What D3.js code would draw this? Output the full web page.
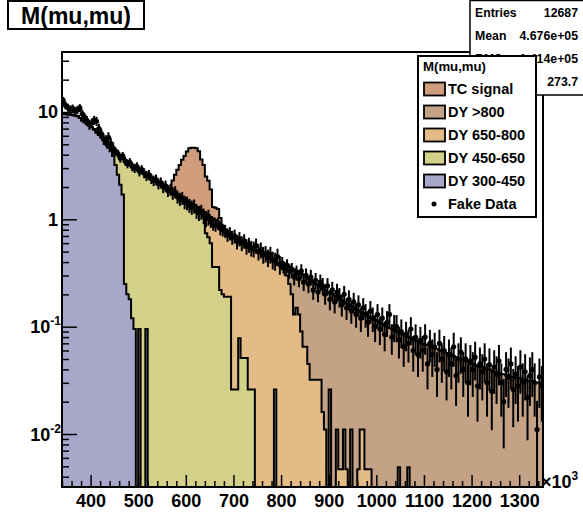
<!DOCTYPE html>
<html><head><meta charset="utf-8">
<script src="https://cdn.jsdelivr.net/npm/d3@7"></script>
<style>
body{margin:0;background:#fff}
text{font-family:"Liberation Sans",Arial,Helvetica,sans-serif;font-weight:bold;fill:#000}
</style></head>
<body><svg id="c" width="583" height="516"></svg>
<script>
// ---- binning (x in units of 10^3) ----
const xMin = 340, xMax = 1350, binWidth = 5, nBins = 202;

// ---- MC components (per-bin values, each starting at given low edge) ----
const dy300_450Start = 340;
const dy300_450 = [9.6,9.5,9.4,9.4,9.3,9.2,9.1,8.8,8.3,8.0,7.7,7.5,7.15,6.84,6.42,6.1,5.78,5.45,5.0,4.65,4.3,3.9,3.2,2.6,2.1,1.7,0.25,0.2,0.18,0.12,0.095,0,0.095,0,0,0.095];

const dy450_650Start = 400;
const dy450_650 = [0.05,0.06,0.08,0.1,0.12,0.15,0.2,0.25,0.3,0.4,
0.9,1.35,1.7,1.95,3.25,3.2,3.12,3.03,2.955,2.95,
2.755,2.76,2.68,2.505,2.5,2.42,2.35,2.28,2.2,2.13,
2.06,2.0,1.93,1.87,1.81,1.75,1.7,1.64,1.59,1.54,
1.49,1.44,1.39,1.35,1.3,1.26,1.18,1.07,0.74,0.68,
0.6,0.36,0.36,0.36,0.22,0.2,0.19,0.19,0.19,0.026,
0.026,0.026,0.078,0.051,0.051,0.051,0.026,0.026,0.026,0,
0,0,0,0,0,0,0,0.026];

const dy650_800Start = 630;
const dy650_800 = [0.03,0.1,0.39,0.41,0.45,0.66,0.62,0.59,0.63,0.62,
0.60,0.58,0.55,0.68,0.65,0.63,0.57,0.575,0.56,0.54,
0.54,0.53,0.51,0.51,0.5,0.49,0.47,0.46,0.44,0.43,
0.41,0.38,0.38,0.37,0.35,0.32,0.3,0.25,0.2,0.13,
0.15,0.13,0.09,0.065,0.065,0.045,0.032,0.032,0.032,0.032,
0.032,0.016,0.011,0,0.026,0,0,0.011,0.0047,0.0047,
0.011,0.0047,0,0.011,0,0,0.0047,0.011,0.011,0.0047,
0.0047,0.0047,0,0,0,0,0,0,0,0,0,0,0,0.0049,0,0,0,0.0049];

const dy800Start = 790;
const dy800 = [0.005,0.01,0.02,0.03,0.08,0.11,0.15,0.21,0.18,0.19,
0.22,0.235,0.225,0.235,0.238,0.228,0.218,0.213,0.203,0.209,
0.209,0.21,0.179,0.2,0.192,0.175,0.175,0.17,0.159,0.16,
0.16,0.144,0.15,0.145,0.136,0.126,0.122,0.124,0.12,0.116,
0.118,0.115,0.112,0.109,0.106,0.103,0.1,0.097,0.095,0.092,
0.09,0.083,0.086,0.084,0.082,0.075,0.078,0.076,0.074,0.073,
0.071,0.069,0.068,0.067,0.065,0.064,0.063,0.062,0.06,0.059,
0.058,0.057,0.056,0.055,0.053,0.052,0.051,0.05,0.049,0.048,
0.047,0.046,0.045,0.044,0.043,0.042,0.042,0.041,0.04,0.04,
0.039,0.038,0.038,0.037,0.036,0.036,0.035,0.035,0.034,0.034,
0.033,0.033,0.033,0.032,0.032,0.031,0.031,0.031,0.03,0.03,
0.03,0.029];

const tcSignalStart = 565;
const tcSignal = [0.05,0.49,0.85,1.2,1.56,2.0,2.36,2.8,3.16,3.26,3.3,3.3,3.04,2.4,2.03,1.37,1.2,0.85,0.28,0.3,0.3,0.18,0.05];

// ---- fake data ----
const fakeDataStart = 340;
const fakeData = [12.8,11.5,11.0,10.6,10.8,10.2,10.5,10.9,9.6,8.9,
8.3,7.6,7.9,8.4,8.2,7.0,6.3,5.6,5.4,5.8,
5.1,4.6,4.3,4.1,3.7,3.9,3.5,3.3,3.4,3.1,
3.0,3.1,2.8,2.9,2.7,2.55,2.6,2.4,2.3,2.35,
2.15,2.2,2.0,2.05,1.85,1.9,1.75,1.8,1.62,1.55,
1.58,1.45,1.42,1.35,1.3,1.33,1.2,1.15,1.18,1.08,
1.02,1.05,0.95,0.9,0.88,0.92,0.82,0.8,0.78,0.72,
0.74,0.68,0.7,0.62,0.66,0.6,0.63,0.56,0.58,0.54,
0.53,0.57,0.5,0.52,0.47,0.48,0.44,0.47,0.42,0.41,
0.45,0.38,0.39,0.35,0.37,0.33,0.34,0.29,0.32,0.28,
0.33,0.26,0.3,0.25,0.29,0.22,0.27,0.21,0.26,0.24,
0.2,0.24,0.18,0.22,0.17,0.21,0.19,0.16,0.2,0.15,
0.18,0.14,0.17,0.13,0.16,0.12,0.15,0.13,0.11,0.14,
0.12,0.1,0.13,0.095,0.12,0.085,0.11,0.13,0.08,0.1,
0.1,0.075,0.09,0.065,0.085,0.07,0.095,0.06,0.08,0.055,
0.075,0.06,0.08,0.045,0.07,0.055,0.065,0.04,0.07,0.05,
0.06,0.038,0.055,0.045,0.065,0.035,0.05,0.058,0.04,0.05,
0.03,0.048,0.04,0.052,0.028,0.045,0.038,0.05,0.03,0.044,
0.025,0.042,0.036,0.048,0.03,0.02,0.04,0.034,0.045,0.026,
0.036,0.028,0.042,0.03,0.038,0.022,0.035,0.04,0.03,0.011,
0.034,0.028];
// per-event weight of the fake sample by mass range (for error bars)
const weightFrom = [340, 450, 650, 800];
const eventWeight = [0.08, 0.03, 0.015, 0.008];

// ---- labels / styles ----
const seriesKeys = ["dy300","dy450","dy650","dy800","tc"];
const seriesNames = ["DY 300-450","DY 450-650","DY 650-800","DY >800","TC signal"];
const seriesColors = ["#a8a6c9","#d3d08a","#e2bb86","#c3a285","#cf9c7c"];
const xTickLabels = [400,500,600,700,800,900,1000,1100,1200,1300];
const yTickDecades = [-2,-1,0,1];
const statsRows = [["Entries","12687"],["Mean","4.676e+05"],["RMS","1.414e+05"],["Integral","273.7"]];

// ---- build per-bin table ----
function expand(start, vals){
  const a = new Array(nBins).fill(0);
  const o = Math.round((start - xMin)/binWidth);
  vals.forEach((v,k)=>{ if(o+k<nBins) a[o+k]=v; });
  return a;
}
const comp = {
  dy300: expand(dy300_450Start, dy300_450),
  dy450: expand(dy450_650Start, dy450_650),
  dy650: expand(dy650_800Start, dy650_800),
  dy800: expand(dy800Start, dy800),
  tc: expand(tcSignalStart, tcSignal)
};
const rows = d3.range(nBins).map(i => {
  const r = {i};
  seriesKeys.forEach(k => r[k] = comp[k][i]);
  return r;
});
const stacked = d3.stack().keys(seriesKeys)(rows);
const data = expand(fakeDataStart, fakeData);

// ---- layout ----
const svg = d3.select("#c");
const fr = {l:62, r:543, t:52, b:487};
const x = d3.scaleLinear().domain([xMin, xMax]).range([fr.l, fr.r]);
const y = d3.scaleLog().domain([0.00321, 36.2]).range([fr.b, fr.t]);

svg.append("rect").attr("width",583).attr("height",516).attr("fill","#fff");
svg.append("defs").append("clipPath").attr("id","fc")
  .append("rect").attr("x",fr.l).attr("y",fr.t).attr("width",fr.r-fr.l).attr("height",fr.b-fr.t);

const yBot = fr.b + 3;
function stepPath(tops){
  let d = `M${x(xMin)},${yBot}`;
  tops.forEach((v,i)=>{
    const yy = v > 0 ? Math.min(y(v), yBot) : yBot;
    d += `L${x(xMin+i*binWidth)},${yy}L${x(xMin+(i+1)*binWidth)},${yy}`;
  });
  return d + `L${x(xMax)},${yBot}Z`;
}

const plot = svg.append("g").attr("clip-path","url(#fc)");
for (let k = stacked.length-1; k >= 0; k--) {
  const tops = stacked[k].map(d => d[1]);
  plot.append("path").attr("d", stepPath(tops))
    .attr("fill", seriesColors[k]).attr("stroke","#000").attr("stroke-width",2)
    .attr("stroke-linejoin","miter");
}

// fake data with error bars
function wAt(xc){ let w = eventWeight[0]; weightFrom.forEach((f,j)=>{ if(xc>=f) w = eventWeight[j]; }); return w; }
const pts = data.map((v,i)=>({xc: xMin+(i+0.5)*binWidth, v})).filter(d=>d.v>0);
plot.selectAll("line.err").data(pts).enter().append("line")
  .attr("x1",d=>x(d.xc)).attr("x2",d=>x(d.xc))
  .attr("y1",d=>{const e=Math.sqrt(d.v*wAt(d.xc)); return y(d.v+e);})
  .attr("y2",d=>{const e=Math.sqrt(d.v*wAt(d.xc)); const lo=d.v-e; return lo>0? y(lo): yBot;})
  .attr("stroke","#000").attr("stroke-width",2);
plot.selectAll("circle.pt").data(pts).enter().append("circle")
  .attr("cx",d=>x(d.xc)).attr("cy",d=>y(d.v)).attr("r",2.6).attr("fill","#000");

// ---- axes ----
const xMinor = d3.range(340, 1351, 20).filter(v => v % 100 !== 0);
svg.append("g").attr("transform",`translate(0,${fr.b})`)
  .call(d3.axisBottom(x).tickValues(xMinor).tickSize(-6).tickSizeOuter(0).tickFormat(""))
  .call(g=>{g.select(".domain").remove(); g.selectAll("line").attr("stroke-width",1.5);});
svg.append("g").attr("transform",`translate(0,${fr.b})`)
  .call(d3.axisBottom(x).tickValues(xTickLabels).tickSize(-12).tickSizeOuter(0).tickPadding(7).tickFormat(d3.format("d")))
  .call(g=>{g.select(".domain").remove(); g.selectAll("line").attr("stroke-width",1.5);
    g.selectAll("text").attr("font-size",18).attr("font-family","Liberation Sans, Arial, sans-serif").attr("font-weight","bold").attr("fill","#000");});

const yMinor = [];
[-3,-2,-1,0,1].forEach(e => { for (let m=2;m<=9;m++){ const v=m*Math.pow(10,e); if (v>0.00321 && v<36.2) yMinor.push(v);} });
svg.append("g").attr("transform",`translate(${fr.l},0)`)
  .call(d3.axisLeft(y).tickValues(yMinor).tickSize(-7).tickSizeOuter(0).tickFormat(""))
  .call(g=>{g.select(".domain").remove(); g.selectAll("line").attr("stroke-width",1.5);});
svg.append("g").attr("transform",`translate(${fr.l},0)`)
  .call(d3.axisLeft(y).tickValues(yTickDecades.map(e=>Math.pow(10,e))).tickSize(-15).tickSizeOuter(0).tickFormat(""))
  .call(g=>{g.select(".domain").remove(); g.selectAll("line").attr("stroke-width",1.5);});

// y labels
yTickDecades.forEach(e => {
  const v = Math.pow(10,e), yy = y(v) + 6.5;
  if (e === 0) svg.append("text").attr("x",58).attr("y",yy).attr("text-anchor","end").attr("font-size",18).text("1");
  else if (e === 1) svg.append("text").attr("x",58).attr("y",yy).attr("text-anchor","end").attr("font-size",18).text("10");
  else {
    const t = svg.append("text").attr("x",61).attr("y",yy).attr("text-anchor","end").attr("font-size",18);
    t.append("tspan").text("10");
    t.append("tspan").attr("font-size",12).attr("dy",-8).text(String(e));
  }
});
// x exponent
const xe = svg.append("text").attr("x",541).attr("y",488).attr("font-size",18);
xe.append("tspan").text("\u00d710");
xe.append("tspan").attr("font-size",12).attr("dy",-8).text("3");

// frame
svg.append("rect").attr("x",fr.l).attr("y",fr.t).attr("width",fr.r-fr.l).attr("height",fr.b-fr.t)
  .attr("fill","none").attr("stroke","#000").attr("stroke-width",2);

// ---- title box ----
svg.append("rect").attr("x",8).attr("y",1).attr("width",136).attr("height",28)
  .attr("fill","#fff").attr("stroke","#000").attr("stroke-width",2);
svg.append("text").attr("x",76).attr("y",23.5).attr("text-anchor","middle").attr("font-size",23).text("M(mu,mu)");

// ---- stats box (partly hidden by the legend, as in the original) ----
svg.append("rect").attr("x",470).attr("y",0.5).attr("width",120).attr("height",94.5)
  .attr("fill","#fff").attr("stroke","#000").attr("stroke-width",1.5);
statsRows.forEach((r,j)=>{
  const yy = 12 + j*23 + 4.5;
  svg.append("text").attr("x",475).attr("y",yy).attr("font-size",12.3).text(r[0]);
  svg.append("text").attr("x",578).attr("y",yy).attr("text-anchor","end").attr("font-size",12.3).text(r[1]);
});

// ---- legend ----
const lg = svg.append("g");
lg.append("rect").attr("x",418).attr("y",56).attr("width",118).attr("height",161)
  .attr("fill","#fff").attr("stroke","#000").attr("stroke-width",2);
lg.append("text").attr("x",423).attr("y",71).attr("font-size",13.2).text("M(mu,mu)");
const legOrder = [4,3,2,1,0];
legOrder.forEach((k,j)=>{
  const cy = 89 + j*23;
  lg.append("rect").attr("x",424).attr("y",cy-6.5).attr("width",21).attr("height",13)
    .attr("fill",seriesColors[k]).attr("stroke","#000").attr("stroke-width",1.8);
  lg.append("text").attr("x",448).attr("y",cy+5.2).attr("font-size",14.5).text(seriesNames[k]);
});
lg.append("circle").attr("cx",434).attr("cy",204).attr("r",2.5).attr("fill","#000");
lg.append("text").attr("x",448).attr("y",209.2).attr("font-size",14.5).text("Fake Data");
</script>
</body></html>
